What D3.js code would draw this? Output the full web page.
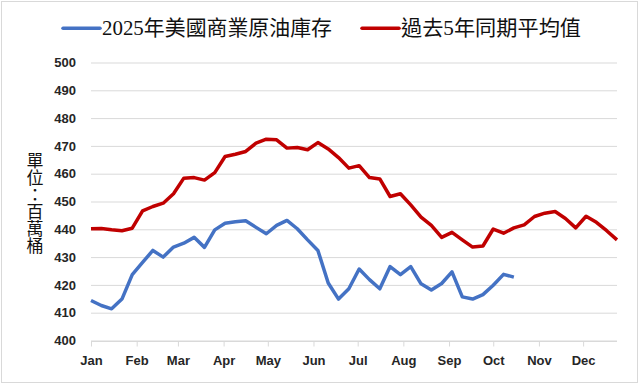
<!DOCTYPE html>
<html>
<head>
<meta charset="utf-8">
<script src="https://cdn.jsdelivr.net/npm/d3@7/dist/d3.min.js"></script>
<style>
    html, body { margin: 0; padding: 0; background: #fff; }
    svg { display: block; }
</style>
</head>
<body>
<div id="chart"></div>
<script>
// weekly values, millions of barrels
var stock2025 = [
    414.4, 412.6, 411.4, 414.9, 423.7, 428.1, 432.4, 430.0, 433.6, 435.0,
    437.1, 433.5, 439.8, 442.2, 442.7, 443.1, 440.7, 438.4, 441.4, 443.2,
    440.2, 436.2, 432.4, 420.7, 414.9, 418.6, 425.7, 421.9, 418.6, 426.6,
    423.7, 426.6, 420.4, 418.2, 420.5, 424.7, 415.7, 414.9, 416.5, 419.9,
    423.8, 422.8
];
var avg5yr = [
    440.2, 440.3, 439.8, 439.5, 440.4, 446.6, 448.2, 449.4, 452.8, 458.4,
    458.6, 457.7, 460.4, 466.2, 467.0, 468.0, 471.0, 472.4, 472.2, 469.2,
    469.4, 468.6, 471.2, 468.9, 465.8, 462.0, 462.9, 458.6, 458.1, 451.8,
    452.8, 448.8, 444.4, 441.4, 437.1, 438.9, 436.2, 433.6, 434.0, 440.1,
    438.6, 440.5, 441.6, 444.6, 445.8, 446.4, 443.9, 440.5, 444.7, 442.5,
    439.5, 436.2
];
var monthLabels = ["Jan", "Feb", "Mar", "Apr", "May", "Jun", "Jul", "Aug", "Sep", "Oct", "Nov", "Dec"];
var yTicks = [400, 410, 420, 430, 440, 450, 460, 470, 480, 490, 500];
var seriesNames = ["2025年美國商業原油庫存", "過去5年同期平均值"];
var yLabel = "單位：百萬桶";

(function () {
    // weeks (Wednesdays) of 2025
    var weeks = d3.utcWednesday.range(new Date(Date.UTC(2025, 0, 1)), new Date(Date.UTC(2025, 11, 25)));

    var width = 640, height = 386,
        plotLeft = 91, plotRight = 617, plotTop = 62.5, plotBottom = 340.5,
        blue = "#4472c4", red = "#c00000", grid = "#d9d9d9",
        tickFont = "bold 13px 'Liberation Sans', Arial, sans-serif";

    var x = d3.scaleUtc().domain([weeks[0], weeks[weeks.length - 1]]).range([plotLeft, plotRight]);
    var y = d3.scaleLinear().domain([400, 500]).range([plotBottom, plotTop]);

    var svg = d3.select("#chart").append("svg").attr("width", width).attr("height", height);

    svg.append("rect")
        .attr("x", 1.5).attr("y", 1.5).attr("width", 636).attr("height", 381)
        .attr("fill", "#fff").attr("stroke", grid).attr("stroke-width", 1);

    // grid + y labels
    var yAxis = d3.axisLeft(y).tickValues(yTicks).tickSize(-(plotRight - plotLeft)).tickPadding(15);
    var gy = svg.append("g").attr("transform", "translate(" + plotLeft + ",0)").call(yAxis);
    gy.select(".domain").remove();
    gy.selectAll(".tick line").attr("stroke", grid).attr("stroke-width", 1);
    gy.selectAll(".tick text").attr("fill", "#262626").style("font", tickFont);

    // x axis, ticks on month starts
    var months = d3.utcMonth.range(new Date(Date.UTC(2025, 0, 1)), new Date(Date.UTC(2025, 11, 2)));
    var xAxis = d3.axisBottom(x).tickValues(months).tickSize(5).tickPadding(9)
        .tickFormat(function (d, i) { return monthLabels[i]; });
    var gx = svg.append("g").attr("transform", "translate(0," + (plotBottom + 1) + ")").call(xAxis);
    gx.select(".domain").attr("d", "M" + plotLeft + ",0H" + plotRight).attr("stroke", grid);
    gx.selectAll(".tick line").attr("stroke", grid);
    gx.selectAll(".tick text").attr("fill", "#262626").style("font", tickFont);

    var line = d3.line()
        .x(function (d, i) { return x(weeks[i]); })
        .y(function (d) { return y(d); });

    svg.append("path").datum(avg5yr).attr("d", line)
        .attr("fill", "none").attr("stroke", red).attr("stroke-width", 3.5).attr("stroke-linejoin", "round");
    svg.append("path").datum(stock2025).attr("d", line)
        .attr("fill", "none").attr("stroke", blue).attr("stroke-width", 3.5).attr("stroke-linejoin", "round");

    // legend
    var legend = [
        { name: seriesNames[0], color: blue, x: 63, len: 230 },
        { name: seriesNames[1], color: red, x: 362, len: 180 }
    ];
    legend.forEach(function (l) {
        svg.append("line")
            .attr("x1", l.x).attr("x2", l.x + 37).attr("y1", 28.3).attr("y2", 28.3)
            .attr("stroke", l.color).attr("stroke-width", 3.5).attr("stroke-linecap", "round");
        svg.append("text")
            .attr("x", l.x + 39).attr("y", 27.5)
            .attr("dominant-baseline", "central")
            .attr("textLength", l.len).attr("lengthAdjust", "spacingAndGlyphs")
            .attr("fill", "#111")
            .style("font", "21px 'Liberation Serif', 'Noto Sans CJK TC', serif")
            .text(l.name);
    });

    // vertical unit label
    svg.append("text")
        .attr("x", 35).attr("y", 203.5)
        .attr("text-anchor", "middle")
        .style("writing-mode", "vertical-rl")
        .style("font", "17px 'Noto Sans CJK TC', sans-serif")
        .attr("fill", "#111")
        .text(yLabel);
})();
</script>
</body>
</html>
